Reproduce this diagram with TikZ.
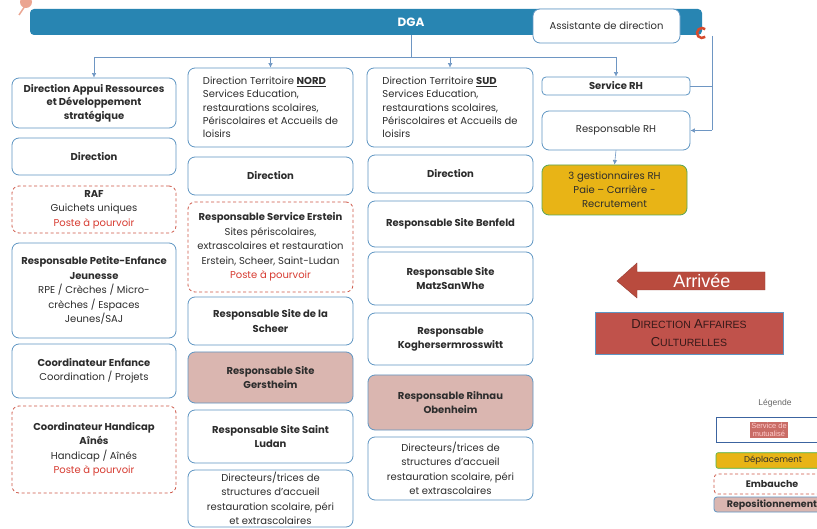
\documentclass[tikz,border=0pt]{standalone}
\usepackage{fontspec}
\setmainfont{Poppins}
\newfontfamily\arialf{Liberation Sans}
\usetikzlibrary{arrows.meta}
\definecolor{dgablue}{RGB}{40,133,178}
\definecolor{bordblue}{RGB}{95,150,195}
\definecolor{connblue}{RGB}{110,150,195}
\definecolor{hirered}{RGB}{205,85,70}
\definecolor{postered}{RGB}{215,60,50}
\definecolor{repopink}{RGB}{218,182,176}
\definecolor{moveyellow}{RGB}{232,180,22}
\definecolor{textgray}{RGB}{45,45,45}
\definecolor{arrowred}{RGB}{185,75,62}
\definecolor{dacred}{RGB}{192,82,75}
\definecolor{cred}{RGB}{215,75,45}
\definecolor{flower}{RGB}{235,165,145}
\definecolor{legblue}{RGB}{60,100,160}
\newcommand\obox[7]{\node[#6, minimum width={(#4-#2)*1pt}, minimum height={(#5-#3)*1pt}] (#1) at ({(#2+#4)/2},{(#3+#5)/2}) {#7};}
\newcommand\mysc[2]{{\fontsize{13}{18}\selectfont #1}{\fontsize{10.5}{18}\selectfont #2}}
\newcommand\pap{\textcolor{postered}{Poste à pourvoir}}
\tikzset{
  box/.style={draw=bordblue, line width=0.8pt, rounded corners=7pt, fill=white, align=center, inner sep=0pt, font=\fontsize{10}{14.5}\selectfont, text=textgray},
  bbox/.style={box, font=\bfseries\fontsize{10}{14.5}\selectfont},
  hirebox/.style={box, draw=hirered, dash pattern=on 3pt off 2.5pt},
  repobox/.style={bbox, fill=repopink},
  movebox/.style={box, fill=moveyellow, draw=gray!70!green},
  leftbox/.style={box, align=left, font=\fontsize{10}{13.3}\selectfont},
  conn/.style={draw=connblue, line width=0.6pt},
  arr/.style={conn, -{Latex[length=4.5pt,width=4.5pt]}},
}
\begin{document}
\begin{tikzpicture}[x=1pt,y=-1pt]
\useasboundingbox (0,0) rectangle (817,529);
\fill[white] (0,0) rectangle (817,529);
% decorations
\fill[flower] (26,2) circle (6);
\draw[flower, line width=1.5pt] (19,15) -- (25,6);
% DGA bar
\obox{dga}{30}{9}{702}{35}{draw=none, fill=dgablue, rounded corners=4pt, label={[text=white, font=\bfseries\fontsize{12}{14}\selectfont, xshift=45pt]center:DGA}}{}
\obox{asst}{533}{9}{680}{43}{box}{Assistante de direction}
\draw[cred, line width=2.5pt] (702,33) ++(50:5) arc[start angle=50, end angle=310, radius=5];
% left column
\obox{a1}{12}{78}{176}{128}{bbox, font=\bfseries\fontsize{10}{13.5}\selectfont}{Direction Appui Ressources\\et Développement\\stratégique}
\obox{a2}{12}{138}{176}{175}{bbox}{Direction}
\obox{a3}{12}{186}{176}{233}{hirebox}{\textbf{RAF}\\Guichets uniques\\\pap}
\obox{a4}{12}{243}{176}{338}{box}{\textbf{Responsable Petite-Enfance}\\\textbf{Jeunesse}\\RPE / Crèches / Micro-\\crèches / Espaces\\Jeunes/SAJ}
\obox{a5}{12}{344}{176}{398}{box}{\textbf{Coordinateur Enfance}\\Coordination / Projets}
\obox{a6}{12}{406}{176}{493}{hirebox}{\textbf{Coordinateur Handicap}\\\textbf{Aînés}\\Handicap / Aînés\\\pap}
% NORD column
\obox{n0}{188}{68}{353}{147}{leftbox}{Direction Territoire \textbf{\underline{NORD}}\\Services Education,\\restaurations scolaires,\\Périscolaires et Accueils de\\loisirs}
\obox{n1}{188}{157}{353}{195}{bbox}{Direction}
\obox{n2}{188}{202}{353}{292}{hirebox}{\textbf{Responsable Service Erstein}\\Sites périscolaires,\\extrascolaires et restauration\\Erstein, Scheer, Saint-Ludan\\\pap}
\obox{n3}{188}{297}{353}{345}{bbox}{Responsable Site de la\\Scheer}
\obox{n4}{188}{352}{353}{403}{repobox}{Responsable Site\\Gerstheim}
\obox{n5}{188}{410}{353}{463}{bbox}{Responsable Site Saint\\Ludan}
\obox{n6}{188}{470}{353}{527}{box}{Directeurs/trices de\\structures d'accueil\\restauration scolaire, péri\\et extrascolaires}
% SUD column
\obox{s0}{367}{68}{533}{147}{leftbox}{Direction Territoire \textbf{\underline{SUD}}\\Services Education,\\restaurations scolaires,\\Périscolaires et Accueils de\\loisirs}
\obox{s1}{368}{155}{533}{193}{bbox}{Direction}
\obox{s2}{368}{201}{533}{247}{bbox}{Responsable Site Benfeld}
\obox{s3}{368}{252}{533}{305}{bbox}{Responsable Site\\MatzSanWhe}
\obox{s4}{368}{313}{533}{365}{bbox}{Responsable\\Koghersermrosswitt}
\obox{s5}{368}{375}{533}{430}{repobox}{Responsable Rihnau\\Obenheim}
\obox{s6}{368}{437}{533}{500}{box}{Directeurs/trices de\\structures d'accueil\\restauration scolaire, péri\\et extrascolaires}
% RH column
\obox{r1}{542}{77}{690}{95}{bbox, rounded corners=4pt}{Service RH}
\obox{r2}{542}{111}{690}{150}{box}{Responsable RH}
\obox{r3}{542}{165}{687}{215}{movebox, font=\fontsize{10}{14}\selectfont}{3 gestionnaires RH\\Paie – Carrière -\\Recrutement}
% connectors
\coordinate (j) at (411,57);
\coordinate (rt) at (712,36);
\draw[conn] (dga.south -| j) -- (j);
\draw[conn] (j -| a1.north) -- (j -| r1.north);
\draw[arr] (j -| a1.north) -- (a1.north);
\draw[arr] (j -| n0.north) -- (n0.north);
\draw[arr] (j -| s0.north) -- (s0.north);
\draw[arr] (j -| r1.north) -- (r1.north);
\draw[conn] (rt) -- (rt |- r2.east);
\draw[arr] (rt |- r2.east) -- (r2.east);
\draw[conn] (r1.east) -- (r1.east -| rt);
\draw[arr] (r2.south) -- (r3.north);
% Arrivee arrow
\filldraw[fill=arrowred, draw=arrowred!80!black, line width=0.4pt] (617,281) -- (637,263) -- (637,272) -- (765,272) -- (765,290) -- (637,290) -- (637,298) -- cycle;
\node[text=white, font=\arialf\fontsize{18}{20}\selectfont, inner sep=0pt] (arrtxt) at (702,281) {Arrivée};
% DAC
\obox{dac}{595}{312}{783}{354}{draw=bordblue, line width=0.8pt, fill=dacred, align=center, inner sep=0pt, text={rgb,255:red,55;green,25;blue,25}, font=\arialf\fontsize{12}{18}\selectfont}{\mysc{D}{IRECTION} \mysc{A}{FFAIRES}\\\mysc{C}{ULTURELLES}}
% legend
\node[text=gray!80!black, font=\arialf\fontsize{8.5}{10}\selectfont, inner sep=0pt] (lg) at (775,403) {Légende};
\obox{lg1}{716}{417}{830}{442}{draw=legblue, line width=1pt, fill=white}{}
\node[fill=dacred!85!white, text=white!80!red, font=\arialf\fontsize{7.5}{8.5}\selectfont, align=center, inner sep=1.2pt] (lg1t) at (769,430) {Service de\\mutualisé};
\obox{lg2}{716}{454}{830}{467}{draw=gray!60!green, line width=0.6pt, fill=moveyellow, rounded corners=2pt, font=\fontsize{8.5}{9}\selectfont, text=textgray}{Déplacement}
\obox{lg3}{714}{474}{830}{494}{hirebox, rounded corners=4pt, font=\bfseries\fontsize{9.5}{10}\selectfont}{Embauche}
\obox{lg4}{714}{497}{830}{512}{repobox, rounded corners=3pt, font=\bfseries\fontsize{9.5}{10}\selectfont}{Repositionnement}
\end{tikzpicture}
\end{document}
